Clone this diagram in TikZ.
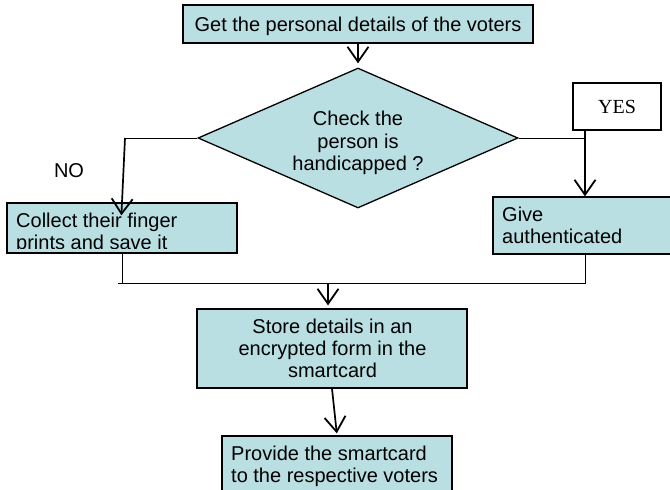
\documentclass[tikz,border=0pt]{standalone}
\usepackage{fontspec}
\setmainfont{Liberation Sans}
\newfontfamily\tnr{Liberation Serif}
\usetikzlibrary{arrows.meta,shapes.geometric}
\definecolor{boxfill}{RGB}{185,223,227}
\tikzset{
  box/.style={draw=black, fill=boxfill, line width=1.3pt, inner sep=0pt},
  dia/.style={diamond, draw=black, fill=boxfill, line width=1.3pt, inner sep=0pt, aspect=2.2857},
  txt/.style={inner sep=0pt, font=\fontsize{20}{22.5}\selectfont},
  conn/.style={line width=1pt},
  arr/.style={line width=1.7pt, -{Straight Barb[length=15pt,width=21pt,line width=1.8pt]}}
}
\begin{document}
\begin{tikzpicture}[x=1pt,y=-1pt]
\useasboundingbox (0,0) rectangle (670,490);
\clip (0,0) rectangle (670,490);
% boxes
\node[box, minimum width=350pt, minimum height=38pt] (top) at (358,24) {};
\node[dia, minimum width=320pt, minimum height=140pt] (chk) at (358,138) {};
\node[box, fill=white, minimum width=88pt, minimum height=47pt] (yes) at (617,106.5) {};
\node[box, minimum width=230pt, minimum height=50pt] (col) at (122,228) {};
\node[box, minimum width=200pt, minimum height=57pt] (give) at (593,225.5) {};
\node[box, minimum width=270pt, minimum height=79pt] (store) at (332,348.5) {};
\node[box, minimum width=230pt, minimum height=70pt] (prov) at (337,471) {};
% texts
\node[txt, anchor=base] (t1) at (358,31) {Get the personal details of the voters};
\node[txt, anchor=base] (d1) at (358,125) {Check the};
\node[txt, anchor=base] (d2) at (358,148) {person is};
\node[txt, anchor=base] (d3) at (358,170) {handicapped ?};
\node[txt, anchor=base, font=\tnr\fontsize{20}{22}\selectfont] (y1) at (617,113) {YES};
\node[txt, anchor=base] (no) at (69,177) {NO};
\begin{scope}
\clip (8,204) rectangle (236,248.5);
\node[txt, anchor=base west] (c1) at (16,227) {Collect their finger};
\node[txt, anchor=base west] (c2) at (16,249) {prints and save it};
\end{scope}
\node[txt, anchor=base west] (g1) at (502,221) {Give};
\node[txt, anchor=base west] (g2) at (502,243) {authenticated};
\node[txt, anchor=base] (s1) at (332.5,333) {Store details in an};
\node[txt, anchor=base] (s2) at (332.5,355) {encrypted form in the};
\node[txt, anchor=base] (s3) at (332.5,377) {smartcard};
\node[txt, anchor=base west] (p1) at (231,460) {Provide the smartcard};
\node[txt, anchor=base west] (p2) at (231,482) {to the respective voters};
% coordinates
\coordinate (yr) at (585,130);
\coordinate (nc) at (125,138);
\coordinate (mL) at (118,283);
\coordinate (mR) at (585,283);
% connectors
\draw[arr, shorten >=4pt] (top.south) -- (chk.north);
\draw[conn] (chk.west) -- (nc);
\draw[arr, shorten >=-13pt] (nc) -- (col.north);
\draw[conn] (chk.east) -- (chk.east -| yr);
\draw[arr] (yr) -- (yr |- give.north);
\draw[conn] (yr |- give.south) -- (mR) -- (mL);
\draw[conn] (col.south) -- (col.south |- mL);
\draw[arr, shorten >=3pt] (store.north |- mL) ++(-4pt,0) coordinate (ms) -- (ms |- store.north);
\draw[arr, shorten >=2pt] (store.south) -- (prov.north);
\end{tikzpicture}
\end{document}
